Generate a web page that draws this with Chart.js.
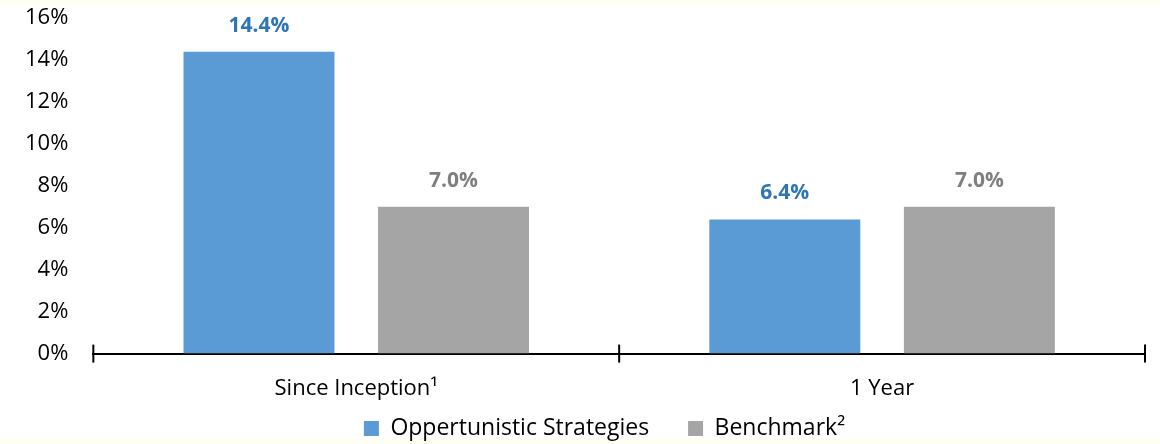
<!DOCTYPE html>
<html>
<head>
<meta charset="utf-8">
<script src="https://cdn.jsdelivr.net/npm/chart.js@4/dist/chart.umd.min.js"></script>
<style>
    html, body { margin: 0; padding: 0; }
    body { width: 1160px; height: 444px; background: #fffef3; overflow: hidden; position: relative; }
    #paper { position: absolute; left: 0; top: 5px; width: 1160px; height: 433px; background: #ffffff; }
    #wrap { position: absolute; left: 0; top: 0; width: 1160px; height: 444px; }
</style>
</head>
<body>
<div id="paper"></div>
<div id="wrap"><canvas id="perfChart"></canvas></div>
<script>
// datos del gráfico
const categories = ['Since Inception\u00B9', '1 Year'];
const seriesNames = ['Oppertunistic Strategies', 'Benchmark\u00B2'];
const strategyValues = [14.4, 6.4];
const benchmarkValues = [7.0, 7.0];
const yTicks = [0, 2, 4, 6, 8, 10, 12, 14, 16];

const FONT = '"Open Sans", sans-serif';

// etiquetas encima de las barras
const valueLabels = {
    id: 'valueLabels',
    afterDatasetsDraw(chart) {
        const ctx = chart.ctx;
        ctx.save();
        ctx.font = 'bold 21px ' + FONT;
        ctx.textAlign = 'center';
        ctx.textBaseline = 'middle';
        chart.data.datasets.forEach((ds, i) => {
            ctx.fillStyle = ds.labelColor;
            chart.getDatasetMeta(i).data.forEach((bar, j) => {
                ctx.fillText(ds.data[j].toFixed(1) + '%', bar.x, bar.y - 26);
            });
        });
        ctx.restore();
    }
};

// marcas del eje x en los limites de categoria + leyenda un poco a la derecha
const axisTicks = {
    id: 'axisTicks',
    afterLayout(chart) {
        chart.legend.left += 22;
        chart.legend.right += 22;
    },
    afterDraw(chart) {
        const x = chart.scales.x;
        const ctx = chart.ctx;
        const y = chart.chartArea.bottom;
        const n = chart.data.labels.length;
        ctx.save();
        ctx.strokeStyle = '#000';
        ctx.lineWidth = 2;
        for (let i = 0; i <= n; i++) {
            const px = x.left + i * (x.width / n);
            ctx.beginPath();
            ctx.moveTo(px, y - 9);
            ctx.lineTo(px, y + 9);
            ctx.stroke();
        }
        ctx.restore();
    }
};

new Chart(document.getElementById('perfChart').getContext('2d'), {
    type: 'bar',
    data: {
        labels: categories,
        datasets: [
            { label: seriesNames[0], data: strategyValues, backgroundColor: '#5b9bd5', labelColor: '#2e75b6' },
            { label: seriesNames[1], data: benchmarkValues, backgroundColor: '#a5a5a5', labelColor: '#7f7f7f' }
        ]
    },
    options: {
        responsive: true,
        maintainAspectRatio: false,
        animation: false,
        categoryPercentage: 0.74,
        barPercentage: 0.776,
        layout: { padding: { top: 18, right: 15, left: 20, bottom: -6 } },
        plugins: {
            legend: {
                position: 'bottom',
                labels: {
                    color: '#000',
                    font: { family: FONT, size: 23 },
                    boxWidth: 15,
                    boxHeight: 15,
                    padding: 15,
                    generateLabels(chart) {
                        const items = Chart.defaults.plugins.legend.labels.generateLabels(chart);
                        items.forEach((it, i) => { if (i < items.length - 1) it.text += '    '; });
                        return items;
                    }
                }
            },
            tooltip: { enabled: false }
        },
        scales: {
            x: {
                grid: { display: false, drawTicks: true, tickLength: 22 },
                border: { color: '#000', width: 2 },
                ticks: { color: '#000', font: { family: FONT, size: 22 }, padding: 0 }
            },
            y: {
                min: 0,
                max: 16,
                afterBuildTicks: axis => { axis.ticks = yTicks.map(v => ({ value: v })); },
                grid: { display: false, drawTicks: true, tickLength: 20 },
                border: { display: false },
                ticks: {
                    color: '#000',
                    font: { family: FONT, size: 22 },
                    padding: 5,
                    callback: v => v + '%'
                }
            }
        }
    },
    plugins: [valueLabels, axisTicks]
});
</script>
</body>
</html>
